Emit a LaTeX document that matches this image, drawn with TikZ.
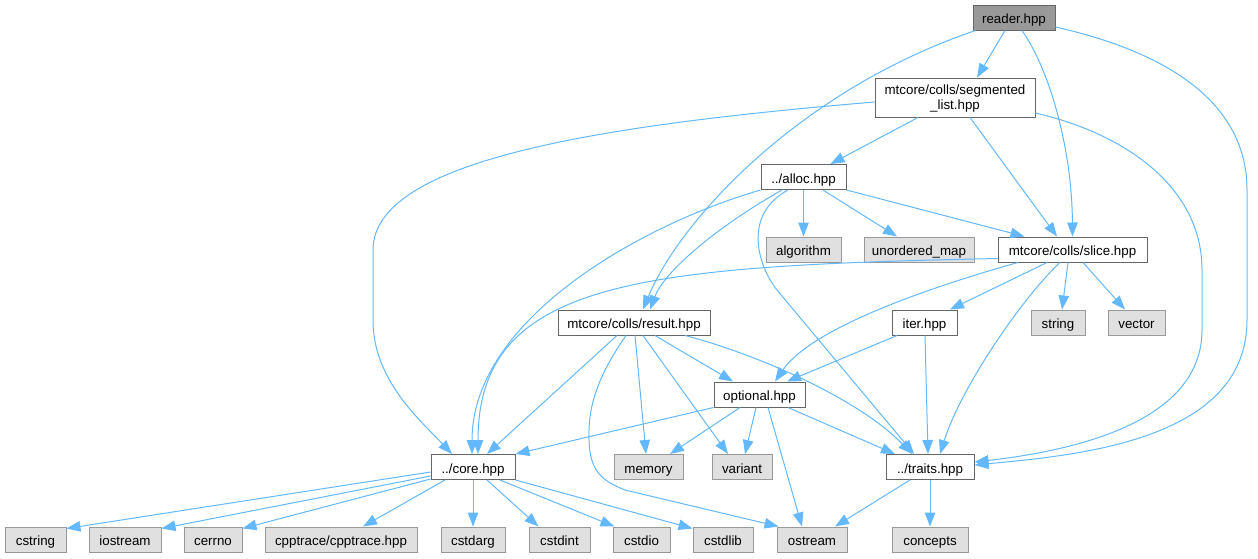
\documentclass[tikz,border=0pt]{standalone}
\usepackage{fontspec}
\setmainfont{Liberation Sans}
\usetikzlibrary{arrows.meta,calc}
\definecolor{edgec}{HTML}{63B8FF}
\definecolor{projb}{HTML}{666666}
\definecolor{extb}{HTML}{999999}
\definecolor{extf}{HTML}{E0E0E0}
\definecolor{rootf}{HTML}{999999}
\begin{document}
\begin{tikzpicture}[x=1pt,y=-1pt,
  every node/.style={font=\fontsize{13.33}{15}\selectfont, inner sep=0pt, text=black},
  box/.style={rectangle, line width=1pt, minimum height=25pt, align=center},
  oneline/.style={text height=12pt, text depth=0pt},
  projm/.style={box, draw=projb, fill=white},
  proj/.style={projm, oneline},
  ext/.style={box, oneline, draw=extb, fill=extf},
  root/.style={box, oneline, draw=projb, fill=rootf},
  edge/.style={draw=edgec, line width=1pt, -{Triangle[length=14pt,width=10.5pt]}}]
\useasboundingbox (0,0) rectangle (1258,558);
% nodes
\node[root, minimum width=82pt] (reader) at (1014,17.5) {reader.hpp};
\node[projm, minimum width=160pt, minimum height=39pt, text depth=0pt] (seg) at (955,97.5) {mtcore/colls/segmented\\\_list.hpp};
\node[proj, minimum width=85pt] (alloc) at (803.5,177) {../alloc.hpp};
\node[ext, minimum width=75pt] (algorithm) at (803.5,249.5) {algorithm};
\node[ext, minimum width=110pt] (umap) at (919,249.5) {unordered\_map};
\node[proj, minimum width=149pt] (slice) at (1072.5,249.5) {mtcore/colls/slice.hpp};
\node[proj, minimum width=65pt] (iter) at (924.5,322.5) {iter.hpp};
\node[ext, minimum width=54pt] (string) at (1058,322.5) {string};
\node[ext, minimum width=57pt] (vector) at (1136.5,322.5) {vector};
\node[proj, minimum width=152pt] (result) at (634,322.5) {mtcore/colls/result.hpp};
\node[proj, minimum width=91pt] (optional) at (759.5,394.5) {optional.hpp};
\node[ext, minimum width=69pt] (memory) at (648.5,467) {memory};
\node[ext, minimum width=60pt] (variant) at (742,467) {variant};
\node[proj, minimum width=84pt] (core) at (473,467) {../core.hpp};
\node[proj, minimum width=88pt] (traits) at (930,467) {../traits.hpp};
\node[ext, minimum width=61pt] (cstring) at (35.5,539.5) {cstring};
\node[ext, minimum width=72pt] (iostream) at (125,539.5) {iostream};
\node[ext, minimum width=58pt] (cerrno) at (213,539.5) {cerrno};
\node[ext, minimum width=152pt] (cpptrace) at (341,539.5) {cpptrace/cpptrace.hpp};
\node[ext, minimum width=64pt] (cstdarg) at (473,539.5) {cstdarg};
\node[ext, minimum width=61pt] (cstdint) at (559.5,539.5) {cstdint};
\node[ext, minimum width=57pt] (cstdio) at (641.5,539.5) {cstdio};
\node[ext, minimum width=60pt] (cstdlib) at (723,539.5) {cstdlib};
\node[ext, minimum width=70pt] (ostream) at (812,539.5) {ostream};
\node[ext, minimum width=76pt] (concepts) at (930,539.5) {concepts};
% edges from reader
\draw[edge] ($(reader.south)+(-9,0)$) -- ($(seg.north)+(22,0)$);
\draw[edge] ($(reader.south)+(8,0)$) .. controls (1050,70) and (1072,150) .. (slice.north);
\draw[edge] ($(reader.south west)+(3,0)$) .. controls (800,90) and (680,220) .. ($(result.north)+(9,0)$);
\draw[edge] ($(reader.east)+(0,9.5)$) .. controls (1180,55) and (1247,110) .. (1247,190) -- (1247,320) .. controls (1247,440) and (1080,455) .. ($(traits.east)+(0,-2)$);
% edges from segmented_list
\draw[edge] ($(seg.west)+(0,4.5)$) .. controls (600,125) and (373,160) .. (373,250) -- (373,320) .. controls (373,380) and (420,420) .. ($(core.north)+(-21,0)$);
\draw[edge] ($(seg.south)+(-37,0)$) -- ($(alloc.north)+(27,0)$);
\draw[edge] ($(seg.south)+(15,0)$) -- ($(slice.north)+(-15.5,0)$);
\draw[edge] ($(seg.east)+(0,15.5)$) .. controls (1130,135) and (1202,190) .. (1202,270) -- (1202,330) .. controls (1202,420) and (1080,450) .. ($(traits.east)+(0,-5)$);
% edges from alloc
\draw[edge] (alloc.south) -- (algorithm.north);
\draw[edge] ($(alloc.south)+(19.5,0)$) -- ($(umap.north)+(-22,0)$);
\draw[edge] (alloc.south east) -- ($(slice.north)+(-48,0)$);
\draw[edge] (alloc.south west) .. controls (640,225) and (472,320) .. ($(core.north)+(-1,0)$);
\draw[edge] ($(alloc.south)+(-21.5,0)$) .. controls (720,225) and (665,270) .. ($(result.north)+(16,0)$);
\draw[edge] ($(alloc.south)+(-15.5,0)$) .. controls (742,215) and (758,266) .. (777,290) -- ($(traits.north)+(-16,0)$);
% edges from slice
\draw[edge] ($(slice.west)+(0,9)$) .. controls (640,266) and (478,280) .. ($(core.north)+(5,0)$);
\draw[edge] ($(slice.south)+(-54.5,0)$) .. controls (920,290) and (810,330) .. ($(optional.north)+(15.5,0)$);
\draw[edge] ($(slice.south)+(-25.5,0)$) -- ($(iter.north)+(25.5,0)$);
\draw[edge] ($(slice.south)+(-4.5,0)$) -- ($(string.north)+(4,0)$);
\draw[edge] ($(slice.south)+(10.5,0)$) -- ($(vector.north)+(-11.5,0)$);
\draw[edge] ($(slice.south)+(-12.5,0)$) .. controls (1020,300) and (960,390) .. ($(traits.north)+(10,0)$);
% edges from result
\draw[edge] ($(result.south)+(-17,0)$) -- ($(core.north)+(14,0)$);
\draw[edge] ($(result.south)+(-8,0)$) .. controls (595,380) and (588,410) .. (589,440) .. controls (590,470) and (600,480) .. (625,490) -- ($(ostream.north west)+(2,0)$);
\draw[edge] ($(result.south)+(1,0)$) -- ($(memory.north)+(-2.5,0)$);
\draw[edge] ($(result.south)+(9,0)$) -- ($(variant.north)+(-14,0)$);
\draw[edge] ($(result.south)+(21,0)$) -- ($(optional.north)+(-26.5,0)$);
\draw[edge] ($(result.south)+(51,0)$) .. controls (760,355) and (860,400) .. ($(traits.north)+(-18,0)$);
% edges from iter
\draw[edge] ($(iter.south)+(-27.5,0)$) -- ($(optional.north)+(27.5,0)$);
\draw[edge] ($(iter.south)+(0.5,0)$) -- ($(traits.north)+(-2,0)$);
% edges from optional
\draw[edge] (optional.south west) -- (core.north east);
\draw[edge] ($(optional.south)+(-19.5,0)$) -- ($(memory.north)+(21.5,0)$);
\draw[edge] ($(optional.south)+(-3.5,0)$) -- ($(variant.north)+(3,0)$);
\draw[edge] ($(optional.south)+(8.5,0)$) -- ($(ostream.north)+(-10,0)$);
\draw[edge] ($(optional.south)+(28.5,0)$) -- ($(traits.north)+(-35,0)$);
% edges from core
\draw[edge] ($(core.west)+(0,5)$) -- ($(cstring.north east)+(0,2)$);
\draw[edge] ($(core.west)+(0,9)$) -- ($(iostream.north east)+(0,2)$);
\draw[edge] ($(core.west)+(0,12)$) -- ($(cerrno.north east)+(0,2)$);
\draw[edge] ($(core.south)+(-28,0)$) -- ($(cpptrace.north)+(22,0)$);
\draw[edge] (core.south) -- (cstdarg.north);
\draw[edge] ($(core.south)+(14,0)$) -- ($(cstdint.north)+(-21,0)$);
\draw[edge] ($(core.south)+(27,0)$) -- ($(cstdio.north west)+(2,0)$);
\draw[edge] (core.south east) -- ($(cstdlib.north west)+(0,2)$);
% edges from traits
\draw[edge] ($(traits.south)+(-20,0)$) -- ($(ostream.north)+(23,0)$);
\draw[edge] (traits.south) -- (concepts.north);
\end{tikzpicture}
\end{document}
